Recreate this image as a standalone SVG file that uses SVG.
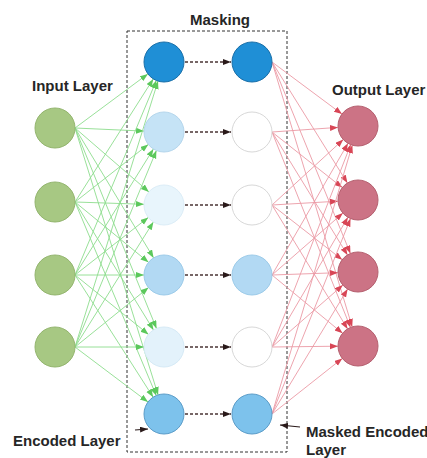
<svg xmlns="http://www.w3.org/2000/svg" width="427" height="458" viewBox="0 0 427 458">
<style>
text{font-family:"Liberation Sans",Arial,sans-serif;font-weight:bold;font-size:15px;fill:#262626}
.g{stroke:#8ddc8d;stroke-width:0.9;fill:none;marker-end:url(#ag)}
.r{stroke:#eb9aa5;stroke-width:0.9;fill:none;marker-end:url(#ar)}
.d{stroke:#4a3535;stroke-width:1.5;stroke-dasharray:3,2;fill:none;marker-end:url(#ad)}
.in{fill:#a7c883;stroke:#93b56e;stroke-width:1}
.out{fill:#cc7385;stroke:#b5606f;stroke-width:1}
</style>
<defs>
<marker id="ag" markerUnits="userSpaceOnUse" markerWidth="9" markerHeight="7" refX="8" refY="3" orient="auto"><path d="M0,0 L8,3 L0,6 z" fill="#5cc85c"/></marker>
<marker id="ar" markerUnits="userSpaceOnUse" markerWidth="9" markerHeight="7" refX="8" refY="3" orient="auto"><path d="M0,0 L8,3 L0,6 z" fill="#d84656"/></marker>
<marker id="ad" markerUnits="userSpaceOnUse" markerWidth="9" markerHeight="7" refX="8" refY="3" orient="auto"><path d="M0,0 L8,3 L0,6 z" fill="#2a1a1a"/></marker>
</defs>
<rect width="427" height="458" fill="#ffffff"/>
<rect id="masking-box" x="127" y="31" width="160" height="421" fill="none" stroke="#333" stroke-width="1" stroke-dasharray="3,2"/>
<g id="connectors">
<line class="g" x1="75" y1="128" x2="147.9" y2="73.9"/>
<line class="g" x1="75" y1="128" x2="144" y2="131.1"/>
<line class="g" x1="75" y1="128" x2="148.9" y2="191.9"/>
<line class="g" x1="75" y1="128" x2="153.6" y2="257.9"/>
<line class="g" x1="75" y1="128" x2="156.5" y2="328.5"/>
<line class="g" x1="75" y1="128" x2="158.1" y2="394.9"/>
<line class="g" x1="75" y1="202" x2="153.3" y2="78.9"/>
<line class="g" x1="75" y1="202" x2="148.3" y2="144.4"/>
<line class="g" x1="75" y1="202" x2="144" y2="204.3"/>
<line class="g" x1="75" y1="202" x2="148.5" y2="262.3"/>
<line class="g" x1="75" y1="202" x2="153.5" y2="330"/>
<line class="g" x1="75" y1="202" x2="156.3" y2="395.6"/>
<line class="g" x1="75" y1="275" x2="156.3" y2="80.5"/>
<line class="g" x1="75" y1="275" x2="153.4" y2="149"/>
<line class="g" x1="75" y1="275" x2="148.3" y2="217.4"/>
<line class="g" x1="75" y1="275" x2="144" y2="275"/>
<line class="g" x1="75" y1="275" x2="148.5" y2="334.4"/>
<line class="g" x1="75" y1="275" x2="153.2" y2="397.2"/>
<line class="g" x1="75" y1="347" x2="158" y2="81.1"/>
<line class="g" x1="75" y1="347" x2="156.4" y2="150.5"/>
<line class="g" x1="75" y1="347" x2="153.4" y2="221.9"/>
<line class="g" x1="75" y1="347" x2="148.5" y2="287.6"/>
<line class="g" x1="75" y1="347" x2="144" y2="347"/>
<line class="g" x1="75" y1="347" x2="148" y2="402"/>
<line class="d" x1="185" y1="62" x2="231" y2="62"/>
<line class="d" x1="185" y1="132" x2="231" y2="132"/>
<line class="d" x1="185" y1="205" x2="231" y2="205"/>
<line class="d" x1="185" y1="275" x2="231" y2="275"/>
<line class="d" x1="185" y1="347" x2="231" y2="347"/>
<line class="d" x1="185" y1="414" x2="231" y2="414"/>
<line class="r" x1="272" y1="62" x2="342" y2="114.1"/>
<line class="r" x1="272" y1="62" x2="347.4" y2="183"/>
<line class="r" x1="272" y1="62" x2="350.4" y2="253.5"/>
<line class="r" x1="272" y1="62" x2="352.2" y2="326.9"/>
<line class="r" x1="272" y1="132" x2="338" y2="127.4"/>
<line class="r" x1="272" y1="132" x2="342.3" y2="187.6"/>
<line class="r" x1="272" y1="132" x2="347.5" y2="255"/>
<line class="r" x1="272" y1="132" x2="350.5" y2="327.4"/>
<line class="r" x1="272" y1="205" x2="343.3" y2="139.5"/>
<line class="r" x1="272" y1="205" x2="338" y2="201.2"/>
<line class="r" x1="272" y1="205" x2="342.2" y2="259.7"/>
<line class="r" x1="272" y1="205" x2="347.6" y2="328.9"/>
<line class="r" x1="272" y1="275" x2="348" y2="143.3"/>
<line class="r" x1="272" y1="275" x2="342.9" y2="213.1"/>
<line class="r" x1="272" y1="275" x2="338" y2="272.7"/>
<line class="r" x1="272" y1="275" x2="342.6" y2="333.3"/>
<line class="r" x1="272" y1="347" x2="350.7" y2="144.6"/>
<line class="r" x1="272" y1="347" x2="347.9" y2="217.3"/>
<line class="r" x1="272" y1="347" x2="342.9" y2="285.1"/>
<line class="r" x1="272" y1="347" x2="338" y2="346.2"/>
<line class="r" x1="272" y1="414" x2="352.3" y2="145.2"/>
<line class="r" x1="272" y1="414" x2="350.5" y2="218.6"/>
<line class="r" x1="272" y1="414" x2="347.6" y2="289.1"/>
<line class="r" x1="272" y1="414" x2="342.3" y2="358.4"/>
<line x1="135" y1="430" x2="148" y2="429" stroke="#2a1a1a" stroke-width="1.2" marker-end="url(#ad)"/>
<line x1="300" y1="427" x2="280" y2="425" stroke="#2a1a1a" stroke-width="1.2" marker-end="url(#ad)"/>
</g>
<g id="input-1"><circle class="in" cx="55" cy="128" r="20"/></g>
<g id="input-2"><circle class="in" cx="55" cy="202" r="20"/></g>
<g id="input-3"><circle class="in" cx="55" cy="275" r="20"/></g>
<g id="input-4"><circle class="in" cx="55" cy="347" r="20"/></g>
<g id="enc-1"><circle cx="164" cy="62" r="20" fill="#1f8fd6" stroke="#1a6fa8"/></g>
<g id="enc-2"><circle cx="164" cy="132" r="20" fill="#c5e3f6" stroke="#b5d6ec"/></g>
<g id="enc-3"><circle cx="164" cy="205" r="20" fill="#e8f5fc" stroke="#dcedf7"/></g>
<g id="enc-4"><circle cx="164" cy="275" r="20" fill="#b2d9f3" stroke="#9ccbe9"/></g>
<g id="enc-5"><circle cx="164" cy="347" r="20" fill="#e3f2fb" stroke="#d6eaf6"/></g>
<g id="enc-6"><circle cx="164" cy="414" r="20" fill="#7dc2ec" stroke="#5b9cc8"/></g>
<g id="mask-1"><circle cx="252" cy="62" r="20" fill="#1f8fd6" stroke="#1a6fa8"/></g>
<g id="mask-2"><circle cx="252" cy="132" r="20" fill="#ffffff" stroke="#d8d8d8"/></g>
<g id="mask-3"><circle cx="252" cy="205" r="20" fill="#ffffff" stroke="#d8d8d8"/></g>
<g id="mask-4"><circle cx="252" cy="275" r="20" fill="#b2d9f3" stroke="#9ccbe9"/></g>
<g id="mask-5"><circle cx="252" cy="347" r="20" fill="#ffffff" stroke="#d8d8d8"/></g>
<g id="mask-6"><circle cx="252" cy="414" r="20" fill="#7dc2ec" stroke="#5b9cc8"/></g>
<g id="out-1"><circle class="out" cx="358" cy="126" r="20"/></g>
<g id="out-2"><circle class="out" cx="358" cy="200" r="20"/></g>
<g id="out-3"><circle class="out" cx="358" cy="272" r="20"/></g>
<g id="out-4"><circle class="out" cx="358" cy="346" r="20"/></g>
<g id="labels">
<text x="190" y="25">Masking</text>
<text x="32" y="91">Input Layer</text>
<text x="332" y="95">Output Layer</text>
<text x="13" y="446">Encoded Layer</text>
<text x="306" y="437">Masked Encoded</text>
<text x="306" y="455">Layer</text>
</g>
</svg>
